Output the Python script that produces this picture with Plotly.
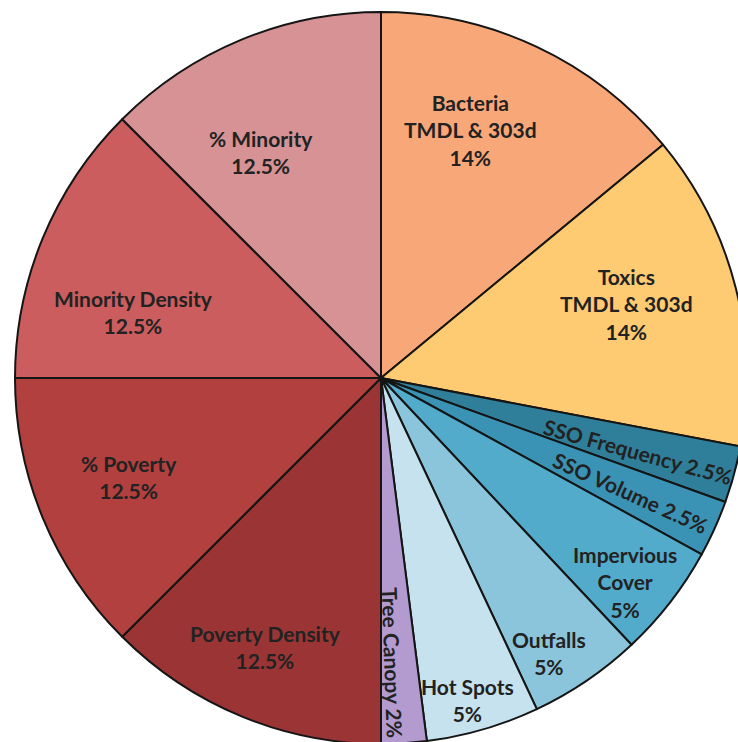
import math
import plotly.graph_objects as go

# Weighting of the prioritization criteria (percent of total score)
labels = [
    "Bacteria<br>TMDL & 303d",
    "Toxics<br>TMDL & 303d",
    "SSO Frequency",
    "SSO Volume",
    "Impervious<br>Cover",
    "Outfalls",
    "Hot Spots",
    "Tree Canopy",
    "Poverty Density",
    "% Poverty",
    "Minority Density",
    "% Minority",
]
weights = [14, 14, 2.5, 2.5, 5, 5, 5, 2, 12.5, 12.5, 12.5, 12.5]
pct_text = ["14%", "14%", "2.5%", "2.5%", "5%", "5%", "5%", "2%",
            "12.5%", "12.5%", "12.5%", "12.5%"]

colors = ["#F8A878", "#FECB72", "#2F7F9B", "#3A93B5", "#52ABCB", "#8AC5DB",
          "#C6E2EE", "#B39BD0", "#9B3535", "#B2403F", "#CC5D5F", "#D69295"]

# Label placement: fraction of radius, angular nudge (deg) from slice middle,
# and whether the label runs along the radius on one line
label_radius = [0.72, 0.70, 0.73, 0.75, 0.87, 0.88, 0.91, 0.78, 0.80, 0.74, 0.70, 0.70]
label_nudge = [-5.4, -2.5, 0.6, 0.4, 2.1, 2.7, 1.1, 1.2, 0.7, 1.0, -7.5, -5.5]
radial_text = [False, False, True, True, False, False, False, True,
               False, False, False, False]

W, H = 762, 756
CX, CY, R = 381, 378, 366

fig = go.Figure(go.Pie(
    labels=labels,
    values=weights,
    sort=False,
    direction="clockwise",
    rotation=0,
    textinfo="none",
    hoverinfo="label+percent",
    marker=dict(colors=colors, line=dict(color="#151515", width=2)),
    domain=dict(x=[(CX - R) / W, (CX + R) / W], y=[(H - CY - R) / H, (H - CY + R) / H]),
    showlegend=False,
))

total = sum(weights)
start = 0.0
annotations = []
for name, w, pct, rf, nudge, radial in zip(labels, weights, pct_text, label_radius,
                                           label_nudge, radial_text):
    mid = (start + w / 2) / total * 360.0
    start += w
    ang = math.radians(mid + nudge)
    px = CX + rf * R * math.sin(ang)
    py = CY - rf * R * math.cos(ang)
    if radial:
        text = f"{name} {pct}"
        textangle = mid - 90 if mid < 170 else 88
    else:
        text = f"{name}<br>{pct}"
        textangle = 0
    annotations.append(dict(
        x=px / W, y=1 - py / H, xref="paper", yref="paper",
        xanchor="center", yanchor="middle",
        text=text, showarrow=False, textangle=textangle,
        font=dict(family="Lato", size=21, color="#222222", weight="bold"),
        align="center",
    ))

fig.update_layout(
    width=W, height=H,
    margin=dict(l=0, r=0, t=0, b=0),
    paper_bgcolor="white",
    plot_bgcolor="white",
    annotations=annotations,
)

fig.write_html(
    "out.html",
    config={"displayModeBar": False},
    post_script="document.documentElement.style.overflow='hidden';"
                "document.body.style.overflow='hidden';"
                "document.body.style.margin='0';",
)
